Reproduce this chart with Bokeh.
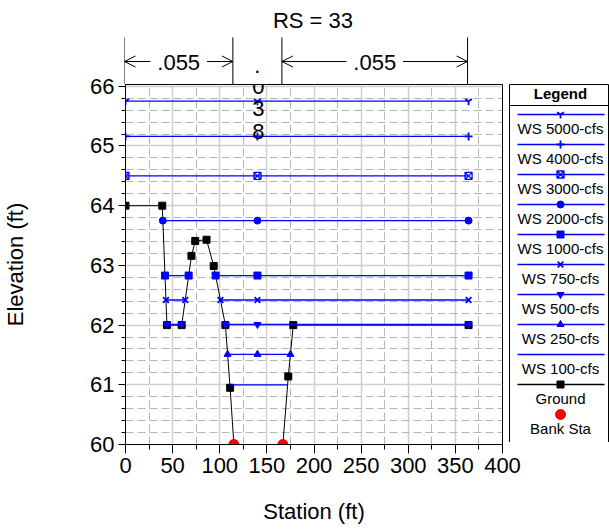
import numpy as np
from bokeh.plotting import figure
from bokeh.models import Range1d, SingleIntervalTicker, Arrow, OpenHead
from bokeh.layouts import column, row
from bokeh.core.properties import value
from bokeh.embed import file_html
from bokeh.resources import INLINE

FONT = "Liberation Sans"

# ---------------- data ----------------
title_text = "RS = 33"
x_label = "Station (ft)"
y_label = "Elevation (ft)"

ground_sta = [0, 39, 44, 59.6, 70, 74, 86, 93.6, 106, 111, 115, 167, 172.7, 178, 364]
ground_elev = [64.0, 64.0, 62.0, 62.0, 63.16, 63.41, 63.43, 62.99, 62.0, 60.95, 60.0, 60.0, 61.14, 62.0, 62.0]

bank_sta = [115, 167]
bank_elev = [60.0, 60.0]

n_sta = [0, 115, 167, 364]
n_vals = [".055", ".038", ".055"]

ws_names = ["WS 5000-cfs", "WS 4000-cfs", "WS 3000-cfs", "WS 2000-cfs", "WS 1000-cfs",
            "WS 750-cfs", "WS 500-cfs", "WS 250-cfs", "WS 100-cfs"]
ws_elev = [65.75, 65.16, 64.50, 63.75, 62.83, 62.42, 62.01, 61.51, 61.00]
ws_segments = [
    [(0, 364)],
    [(0, 364)],
    [(0, 364)],
    [(39.6, 364)],
    [(41.9, 67.0), (95.6, 364)],
    [(42.9, 63.4), (100.7, 364)],
    [(44, 59.6), (106, 364)],
    [(108.3, 175)],
    [(110.8, 172)],
]
ws_marker_sta = [
    [0, 140, 364],
    [0, 140, 364],
    [0, 140, 364],
    [39.6, 140, 364],
    [41.9, 67.0, 95.6, 140, 364],
    [42.9, 63.4, 100.7, 140, 364],
    [44, 59.6, 106, 140, 364],
    [108.3, 140, 175],
    [],
]
ws_markers = ["y", "cross", "square_x", "circle", "square", "x", "inverted_triangle", "triangle", None]

WS_COLOR = "#0000ff"
LEFT_B = 124
RIGHT_B = 28
TOP_OVERLAP = 16

# ---------------- main plot ----------------
xr = Range1d(0, 400)
yr = Range1d(60, 66.03)

p = figure(frame_width=377, frame_height=360, x_range=xr, y_range=yr, output_backend="svg",
           toolbar_location=None, min_border_left=LEFT_B, min_border_right=RIGHT_B,
           min_border_top=TOP_OVERLAP, min_border_bottom=20)
p.border_fill_alpha = 0

xt = SingleIntervalTicker(interval=50, num_minor_ticks=2)
yt = SingleIntervalTicker(interval=1, num_minor_ticks=5)
p.xaxis.ticker = xt
p.xgrid.ticker = xt
p.yaxis.ticker = yt
p.ygrid.ticker = yt

for g in (p.xgrid, p.ygrid):
    g.grid_line_color = "#cfcfcf"
    g.grid_line_width = 1.5
    g.minor_grid_line_color = "#b5b5b5"
    g.minor_grid_line_width = 1
    g.minor_grid_line_dash = "8 4"

p.outline_line_color = "black"
p.outline_line_alpha = 1
p.outline_line_width = 1

for ax in (p.xaxis, p.yaxis):
    ax.axis_line_color = "black"
    ax.major_tick_line_color = "black"
    ax.minor_tick_line_color = "black"
    ax.major_tick_in = 0
    ax.minor_tick_in = 0
    ax.major_label_text_font = FONT
    ax.major_label_text_font_size = "22px"
    ax.major_label_text_color = "black"
    ax.axis_label_text_font = FONT
    ax.axis_label_text_font_size = "22px"
    ax.axis_label_text_font_style = "normal"
    ax.axis_label_text_color = "black"
    ax.major_label_standoff = 4

p.xaxis.major_tick_out = 9
p.xaxis.minor_tick_out = 5
p.yaxis.major_tick_out = 7
p.yaxis.minor_tick_out = 4
p.xaxis.axis_label = x_label
p.yaxis.axis_label = y_label
p.xaxis.axis_label_standoff = 23
p.yaxis.axis_label_standoff = 59
p.yaxis.axis_label_text_line_height = 1.0

# ground first
p.line(ground_sta, ground_elev, line_color="black", line_width=1)
p.scatter(ground_sta, ground_elev, marker="square", size=7, color="black")

# water surfaces
for elev, segs, msta, mk in zip(ws_elev, ws_segments, ws_marker_sta, ws_markers):
    xs = [[a, b] for a, b in segs]
    ys = [[elev, elev] for _ in segs]
    p.multi_line(xs, ys, line_color=WS_COLOR, line_width=1.3)
    if mk is not None and msta:
        if mk == "square_x":
            p.scatter(msta, [elev] * len(msta), marker=mk, size=7, line_color=WS_COLOR,
                      fill_alpha=0, line_width=1.3)
        elif mk in ("y", "cross", "x"):
            p.scatter(msta, [elev] * len(msta), marker=mk, size=8, line_color=WS_COLOR,
                      line_width=1.8)
        else:
            p.scatter(msta, [elev] * len(msta), marker=mk, size=7, color=WS_COLOR)

# bank stations
p.scatter(bank_sta, bank_elev, marker="circle", size=10, color="red")

# vertical n-value text that doesn't fit (continuation inside plot)
mid_n = (n_sta[1] + n_sta[2]) / 2
chars = list(n_vals[1][1:])
p.text(x=[mid_n] * len(chars), y=[yr.end] * len(chars), text=chars,
       y_offset=[2 + 22.3 * i for i in range(len(chars))],
       text_font=value(FONT), text_font_size="22px", text_align="center",
       text_baseline="middle", text_color="black")

# ---------------- top strip (title + n values) ----------------
TOP_H = 84
t = figure(frame_width=377, frame_height=TOP_H, x_range=xr, y_range=Range1d(0, TOP_H),
           output_backend="svg", toolbar_location=None, min_border_left=LEFT_B,
           min_border_right=RIGHT_B, min_border_top=0, min_border_bottom=0)
t.axis.visible = False
t.grid.visible = False
t.outline_line_color = None

t.text(x=[(xr.start + xr.end) / 2], y=[64], text=[title_text], text_font=value(FONT),
       text_font_size="22px", text_align="center", text_baseline="middle", text_color="black")

t.segment(x0=n_sta, y0=[0] * len(n_sta), x1=n_sta, y1=[47] * len(n_sta),
          line_color="black", line_width=1)

GAP = 30
for i, nv in enumerate(n_vals):
    a, b = n_sta[i], n_sta[i + 1]
    c = (a + b) / 2
    if b - a > 2 * GAP + 10:
        t.add_layout(Arrow(x_start=c - GAP, y_start=23, x_end=a, y_end=23,
                           end=OpenHead(size=11, line_width=1, line_color="black"),
                           line_width=1, line_color="black"))
        t.add_layout(Arrow(x_start=c + GAP, y_start=23, x_end=b, y_end=23,
                           end=OpenHead(size=11, line_width=1, line_color="black"),
                           line_width=1, line_color="black"))
        t.text(x=[c], y=[22], text=[nv], text_font=value(FONT), text_font_size="22px",
               text_align="center", text_baseline="middle", text_color="black")
    else:
        t.text(x=[c], y=[19], text=[nv[0]], text_font=value(FONT), text_font_size="22px",
               text_align="center", text_baseline="alphabetic", text_color="black")

# ---------------- legend ----------------
lg = figure(frame_width=100, frame_height=360, x_range=Range1d(0, 100), y_range=Range1d(0, 360),
            output_backend="svg", toolbar_location=None, min_border=0,
            min_border_top=TOP_OVERLAP - 2)
lg.axis.visible = False
lg.grid.visible = False
lg.outline_line_color = "black"
lg.border_fill_alpha = 0
lg.styles = {"margin-left": "-21px"}

lg.text(x=[51], y=[351], text=["Legend"], text_font=value(FONT), text_font_size="15px",
        text_font_style="bold", text_align="center", text_baseline="middle", text_color="black")
lg.segment(x0=[0], y0=[339], x1=[100], y1=[339], line_color="black", line_width=1)

entries = list(zip(ws_names, ws_markers, [WS_COLOR] * len(ws_names))) + [("Ground", "square", "black")]
for i, (name, mk, col) in enumerate(entries):
    yline = 330 - 30 * i
    lg.segment(x0=[8], y0=[yline], x1=[95], y1=[yline], line_color=col, line_width=1.3)
    if mk is not None:
        if mk == "square_x":
            lg.scatter([51], [yline], marker=mk, size=7, line_color=col, fill_alpha=0, line_width=1.3)
        elif mk in ("y", "cross", "x"):
            lg.scatter([51], [yline], marker=mk, size=8, line_color=col, line_width=1.8)
        else:
            lg.scatter([51], [yline], marker=mk, size=7, color=col)
    lg.text(x=[51], y=[yline - 14], text=[name], text_font=value(FONT), text_font_size="15px",
            text_align="center", text_baseline="middle", text_color="black")

ib = len(entries)
ybank = 330 - 30 * ib
lg.scatter([51], [ybank], marker="circle", size=10, color="red")
lg.text(x=[51], y=[ybank - 14], text=["Bank Sta"], text_font=value(FONT), text_font_size="15px",
        text_align="center", text_baseline="middle", text_color="black")

bottom = row(p, lg)
bottom.styles = {"margin-top": f"-{TOP_OVERLAP}px"}
layout = column(t, bottom)
open("out.html", "w").write(file_html(layout, INLINE))
